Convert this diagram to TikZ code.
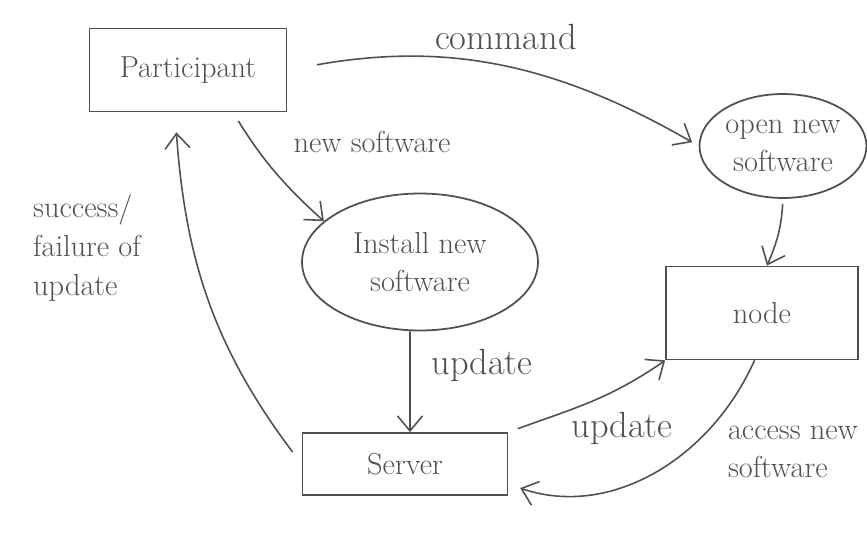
\documentclass[tikz,border=0pt]{standalone}
\usepackage{tikz}
\usetikzlibrary{shapes.geometric,arrows.meta}
\definecolor{pencil}{HTML}{505050}

\begin{document}
\begin{tikzpicture}
    [
      x=0.02cm, y=0.02cm,
      every node/.style={text=pencil, font=\LARGE},
      box/.style={draw=pencil, line width=1pt, rectangle, inner sep=0pt},
      blob/.style={draw=pencil, line width=1pt, ellipse, inner sep=0pt, align=center},
      link/.style={draw=pencil, line width=0.9pt, -{Straight Barb[length=3mm,width=5mm]}}
    ]
    \useasboundingbox (0,0) rectangle (867,-540);

    \node [box, minimum width=3.94cm, minimum height=1.66cm] (participant) at (188,-70) {Participant};
    \node [blob, minimum width=3.34cm, minimum height=2.08cm] (open) at (783,-146) {open new\\software};
    \node [blob, minimum width=4.72cm, minimum height=2.74cm] (install) at (420,-262) {Install new\\software};
    \node [box, minimum width=3.84cm, minimum height=1.86cm] (nodebox) at (762,-313) {node};
    \node [box, minimum width=4.1cm, minimum height=1.24cm] (server) at (405,-464) {Server};

    \node [font=\huge] (cmdlabel) at (506,-37) {command};
    \node (newlabel) at (372,-142) {new software};
    \node [align=left] (resultlabel) at (87,-248) {success/\\failure of\\update};
    \node [font=\huge] (updlabela) at (482,-365) {update};
    \node [font=\huge] (updlabelb) at (622,-428) {update};
    \node [align=left] (accesslabel) at (793,-452) {access new\\software};

    \draw [link, shorten <=0.6cm, shorten >=0.15cm] (participant.east) to [out=10, in=150] (open.west);
    \draw [link, shorten <=0.2cm] ([xshift=0.9cm]participant.south) to [bend right=8] (install.157);
    \draw [link] ([xshift=-0.2cm]install.south) -- ([xshift=0.1cm]server.north);
    \draw [link, shorten <=0.3cm, shorten >=0.4cm] (server.west) to [out=127, in=-86] ([xshift=-0.26cm]participant.south);
    \draw [link, shorten <=0.2cm] (server.north east) to [out=20, in=215] (nodebox.south west);
    \draw [link, shorten >=0.25cm] ([xshift=-0.15cm]nodebox.south) to [out=-114, in=-19] ([yshift=-0.4cm]server.east);
    \draw [link, shorten <=0.1cm] (open.south) to [bend left=10] ([xshift=0.1cm]nodebox.north);
\end{tikzpicture}
\end{document}
